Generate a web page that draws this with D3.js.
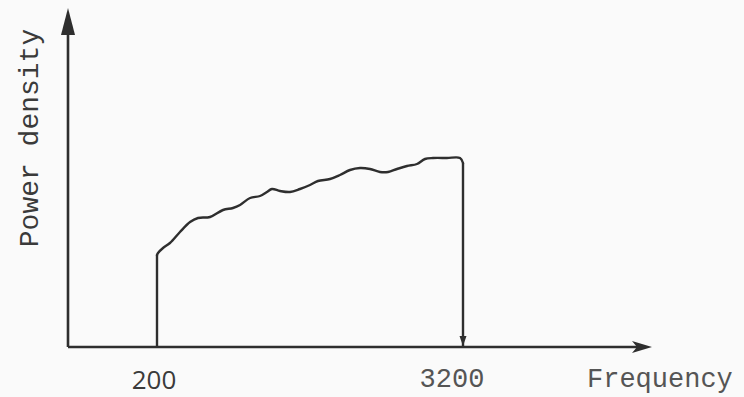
<!DOCTYPE html>
<html>
<head>
<meta charset="utf-8">
<script src="https://cdn.jsdelivr.net/npm/d3@7"></script>
<style>
  html, body { margin: 0; padding: 0; background: #fafafa; }
  svg { display: block; }
</style>
</head>
<body>
<svg id="chart" width="744" height="397"></svg>
<script>
// ---- data ----
const bandEdges = [200, 3200];                 // Hz, the two labelled frequencies
const tickLabels = ["200", "3200"];
const xTitle = "Frequency";
const yTitle = "Power density";
// spectrum shape (relative power density units)
const freq = [200, 210, 259, 327, 425, 524, 602, 720, 847, 945, 1014, 1112, 1210, 1278, 1327,
              1406, 1504, 1602, 1700, 1778, 1896, 1994, 2092, 2190, 2288, 2386, 2465, 2553,
              2651, 2749, 2827, 2906, 3043, 3171, 3200];
const power = [46, 47, 49.5, 52, 57.5, 62.5, 64.5, 65, 68.5, 69.5, 71, 74.5, 75.5, 77.5, 79,
               78, 77.5, 79, 81, 83, 84, 86, 88.5, 89.5, 89, 87.5, 87.5, 89,
               90.5, 91.5, 94, 94.5, 94.5, 94.5, 92];

// ---- layout ----
const svg = d3.select("#chart");
const originX = 68, originY = 347;
const xEnd = 652, yEnd = 8;

const x = d3.scaleLinear().domain(bandEdges).range([157, 463]);
const y = d3.scaleLinear().domain([0, 100]).range([originY, 147]);

const ink = "#2e2e2e";

// axes
svg.append("line")
  .attr("x1", originX).attr("y1", originY).attr("x2", originX).attr("y2", yEnd + 20)
  .attr("stroke", ink).attr("stroke-width", 2.6);
svg.append("path")
  .attr("d", `M${originX},${yEnd} L${originX - 7},${yEnd + 27} L${originX + 7},${yEnd + 27} Z`)
  .attr("fill", ink);

svg.append("line")
  .attr("x1", originX).attr("y1", originY).attr("x2", xEnd - 10).attr("y2", originY)
  .attr("stroke", ink).attr("stroke-width", 2.6);
svg.append("path")
  .attr("d", `M${xEnd},${originY} L${xEnd - 20},${originY - 6} L${xEnd - 15},${originY} L${xEnd - 20},${originY + 6} Z`)
  .attr("fill", ink);

// band edges (vertical lines)
svg.append("line")
  .attr("x1", x(bandEdges[0])).attr("x2", x(bandEdges[0]))
  .attr("y1", y(0)).attr("y2", y(power[0]))
  .attr("stroke", ink).attr("stroke-width", 2.4);
svg.append("line")
  .attr("x1", x(bandEdges[1])).attr("x2", x(bandEdges[1]))
  .attr("y1", y(0)).attr("y2", y(power[power.length - 1]))
  .attr("stroke", ink).attr("stroke-width", 2.4);
// small arrowhead at the bottom of the upper edge line
svg.append("path")
  .attr("d", `M${x(bandEdges[1])},${y(0) - 1} L${x(bandEdges[1]) - 3.5},${y(0) - 11} L${x(bandEdges[1]) + 3.5},${y(0) - 11} Z`)
  .attr("fill", ink);

// spectrum curve
const pts = freq.map((f, i) => [x(f), y(power[i])]);
svg.append("path")
  .attr("d", d3.line().curve(d3.curveCatmullRom.alpha(0.5))(pts))
  .attr("fill", "none").attr("stroke", ink).attr("stroke-width", 2.4)
  .attr("stroke-linejoin", "round").attr("stroke-linecap", "round");

// tick labels
svg.append("text")
  .attr("x", x(bandEdges[0]) - 3).attr("y", 389)
  .attr("text-anchor", "middle")
  .attr("font-family", "'Open Sans', sans-serif").attr("font-size", 26)
  .attr("fill", "#3a3a3a")
  .text(tickLabels[0]);
svg.append("text")
  .attr("x", x(bandEdges[1]) - 11).attr("y", 387)
  .attr("text-anchor", "middle")
  .attr("font-family", "'Liberation Mono', monospace").attr("font-size", 27)
  .attr("fill", "#555")
  .text(tickLabels[1]);

// axis titles
svg.append("text")
  .attr("x", 587).attr("y", 387)
  .attr("font-family", "'Liberation Mono', monospace").attr("font-size", 27)
  .attr("fill", "#555")
  .text(xTitle);
svg.append("text")
  .attr("transform", "translate(38,138) rotate(-90)")
  .attr("text-anchor", "middle")
  .attr("font-family", "'Liberation Mono', monospace").attr("font-size", 28)
  .attr("fill", "#3a3a3a")
  .text(yTitle);
</script>
</body>
</html>
